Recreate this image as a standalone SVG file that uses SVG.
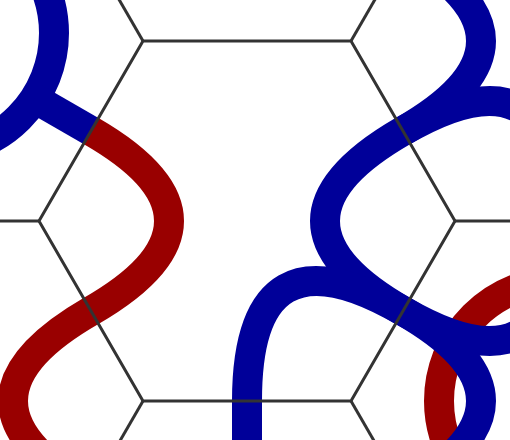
<svg xmlns="http://www.w3.org/2000/svg" width="510" height="440" viewBox="0 0 510 440">
  <style>
    .blue { fill: none; stroke: #000099; stroke-width: 30; stroke-linecap: butt; }
    .red { fill: none; stroke: #990000; stroke-width: 30; stroke-linecap: butt; }
    .grid { fill: none; stroke: #333333; stroke-width: 3; stroke-linejoin: miter; }
  </style>
  <rect x="0" y="0" width="510" height="440" fill="#ffffff"/>
  <g id="tile-lower-right">
    <circle class="red" cx="559" cy="401" r="120"/>
    <path class="blue" d="M403,311 Q559,401 559,221"/>
    <path class="blue" d="M403,311 Q559,401 403,491"/>
  </g>
  <g id="tile-upper-left">
    <circle class="blue" cx="-66" cy="33" r="120"/>
    <path class="blue" d="M91,131 L34.6,98.4"/>
  </g>
  <g id="tile-upper-right">
    <path class="blue" d="M403,131 Q559,41 403,-49"/>
    <path class="blue" d="M403,131 Q559,41 559,221"/>
  </g>
  <g id="tile-center">
    <path class="red" d="M91,131 Q247,221 91,311"/>
    <path class="blue" d="M403,131 Q247,221 403,311"/>
    <path class="blue" d="M247,401 Q247,221 403,311"/>
  </g>
  <g id="tile-lower-left">
    <path class="red" d="M91,311 Q-65,401 91,491"/>
  </g>
  <g id="tile-bottom">
    <path class="blue" d="M247,401 L247,470"/>
  </g>
  <g id="grid">
    <path class="grid" d="M143,41 L351,41 L455,221 L351,401 L143,401 L39,221 Z"/>
    <path class="grid" d="M143,41 L39,-139"/>
    <path class="grid" d="M351,41 L455,-139"/>
    <path class="grid" d="M39,221 L-169,221"/>
    <path class="grid" d="M455,221 L663,221"/>
    <path class="grid" d="M143,401 L39,581"/>
    <path class="grid" d="M351,401 L455,581"/>
  </g>
</svg>
